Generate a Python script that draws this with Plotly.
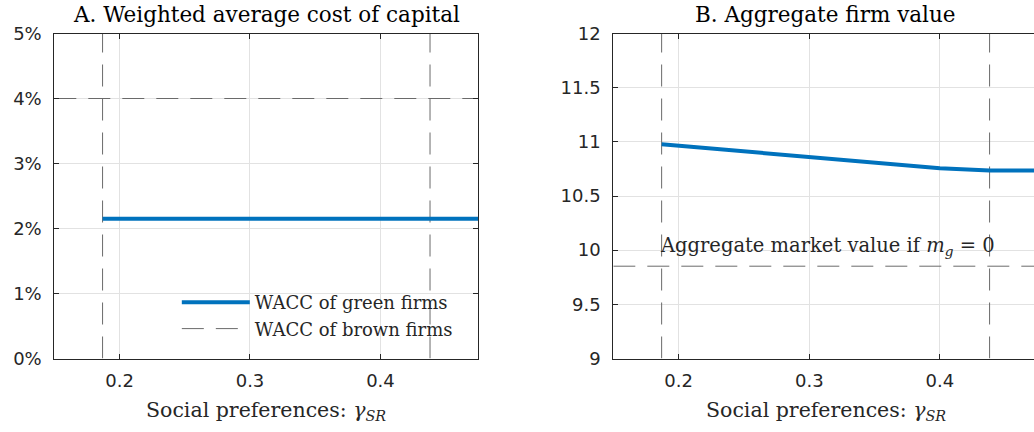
import plotly.graph_objects as go

# Social-preference grid and equilibrium outcomes
gamma_sr = [0.187, 0.2, 0.25, 0.3, 0.35, 0.4, 0.438, 0.475]
wacc_green = [2.15, 2.15, 2.15, 2.15, 2.15, 2.15, 2.15, 2.15]          # percent
wacc_brown_x = [0.15, 0.475]
wacc_brown = [4.0, 4.0]                                                 # percent
firm_value = [10.978, 10.965, 10.908, 10.856, 10.806, 10.756, 10.736, 10.736]
value_no_green_x = [0.15, 0.475]
value_no_green = [9.852, 9.852]
thresholds = [0.187, 0.438]

x_ticks = [0.2, 0.3, 0.4]
wacc_ticks = [0, 1, 2, 3, 4, 5]
wacc_tick_text = ["0%", "1%", "2%", "3%", "4%", "5%"]
value_ticks = [9, 9.5, 10, 10.5, 11, 11.5, 12]
value_tick_text = ["9", "9.5", "10", "10.5", "11", "11.5", "12"]

BLUE = "#0072BD"
DASH_GREY = "#6a6a6a"
FRAME = "#262626"
GRID = "#e2e2e2"
SERIF = "DejaVu Serif"
SANS = "DejaVu Sans"

W, H = 1034, 432
left_dom = [54.3 / W, 478.3 / W]
right_dom = [613.3 / W, 1.0]
y_dom = [1 - 358.5 / H, 1 - 33.5 / H]

DASH = dict(color=DASH_GREY, width=1, dash="22px,12px")

fig = go.Figure()

# Panel A
for t in thresholds:
    fig.add_trace(go.Scatter(x=[t, t], y=[wacc_ticks[0], wacc_ticks[-1]], mode="lines",
                             line=DASH, showlegend=False, hoverinfo="skip",
                             xaxis="x", yaxis="y"))
fig.add_trace(go.Scatter(x=wacc_brown_x, y=wacc_brown, mode="lines", line=DASH,
                         name="WACC of brown firms", showlegend=False, xaxis="x", yaxis="y"))
fig.add_trace(go.Scatter(x=gamma_sr, y=wacc_green, mode="lines",
                         line=dict(color=BLUE, width=4),
                         name="WACC of green firms", xaxis="x", yaxis="y"))
# legend key for the brown-firm line
fig.add_trace(go.Scatter(x=[None], y=[None], mode="lines", line=DASH,
                         name="WACC of brown firms", xaxis="x", yaxis="y"))

# Panel B
for t in thresholds:
    fig.add_trace(go.Scatter(x=[t, t], y=[value_ticks[0], value_ticks[-1]], mode="lines",
                             line=DASH, showlegend=False, hoverinfo="skip",
                             xaxis="x2", yaxis="y2"))
fig.add_trace(go.Scatter(x=value_no_green_x, y=value_no_green, mode="lines", line=DASH,
                         showlegend=False, xaxis="x2", yaxis="y2"))
fig.add_trace(go.Scatter(x=gamma_sr, y=firm_value, mode="lines",
                         line=dict(color=BLUE, width=4),
                         showlegend=False, xaxis="x2", yaxis="y2"))

axis_common = dict(showgrid=True, gridcolor=GRID, gridwidth=1, zeroline=False,
                   showline=True, linecolor=FRAME, linewidth=1, automargin=False,
                   ticks="inside", ticklen=5, tickcolor=FRAME, tickwidth=1,
                   tickfont=dict(family=SANS, size=18, color=FRAME))

fig.update_layout(
    width=W, height=H,
    margin=dict(l=0, r=0, t=0, b=0, autoexpand=False),
    paper_bgcolor="white", plot_bgcolor="white",
    xaxis=dict(domain=left_dom, range=[0.15, 0.475], tickvals=x_ticks,
               ticktext=["0.2", "0.3", "0.4"], mirror="ticks", anchor="y",
               ticklabelstandoff=6, **axis_common),
    yaxis=dict(domain=y_dom, range=[0, 5], tickvals=wacc_ticks, ticktext=wacc_tick_text,
               mirror="ticks", anchor="x", ticklabelstandoff=8, **axis_common),
    xaxis2=dict(domain=right_dom, range=[0.15, 0.472], tickvals=x_ticks,
                ticktext=["0.2", "0.3", "0.4"], mirror="ticks", anchor="y2",
                ticklabelstandoff=6, **axis_common),
    yaxis2=dict(domain=y_dom, range=[9, 12], tickvals=value_ticks, ticktext=value_tick_text,
                mirror=False, anchor="x2", ticklabelstandoff=8, **axis_common),
    legend=dict(x=0.171, y=1 - 284 / H, xanchor="left", yanchor="top",
                bgcolor="rgba(0,0,0,0)", borderwidth=0, itemwidth=68,
                font=dict(family=SERIF, size=18, color=FRAME), tracegroupgap=0),
    showlegend=True,
)

title_font = dict(family=SERIF, size=21.5, color="#000000")
label_font = dict(family=SERIF, size=20.5, color=FRAME)
annotations = [
    dict(text="A. Weighted average cost of capital", x=0.3125, xref="x", y=1 - 15 / H,
         yref="paper", yanchor="middle", showarrow=False, font=title_font),
    dict(text="B. Aggregate firm value", x=0.3125, xref="x2", y=1 - 15 / H,
         yref="paper", yanchor="middle", showarrow=False, font=title_font),
    dict(text="Social preferences: <i>γ</i><sub><i>SR</i></sub>", x=0.3125, xref="x",
         y=1 - 411 / H, yref="paper", yanchor="middle", showarrow=False, font=label_font),
    dict(text="Social preferences: <i>γ</i><sub><i>SR</i></sub>", x=0.3125, xref="x2",
         y=1 - 411 / H, yref="paper", yanchor="middle", showarrow=False, font=label_font),
    dict(text="Aggregate market value if <i>m</i><sub><i>g</i></sub> = 0", x=0.184, xref="x2",
         xanchor="left", y=10.03, yref="y2", yanchor="middle", showarrow=False,
         font=dict(family=SERIF, size=19.5, color=FRAME)),
]
fig.update_layout(annotations=annotations)

fig.write_html("out.html")
